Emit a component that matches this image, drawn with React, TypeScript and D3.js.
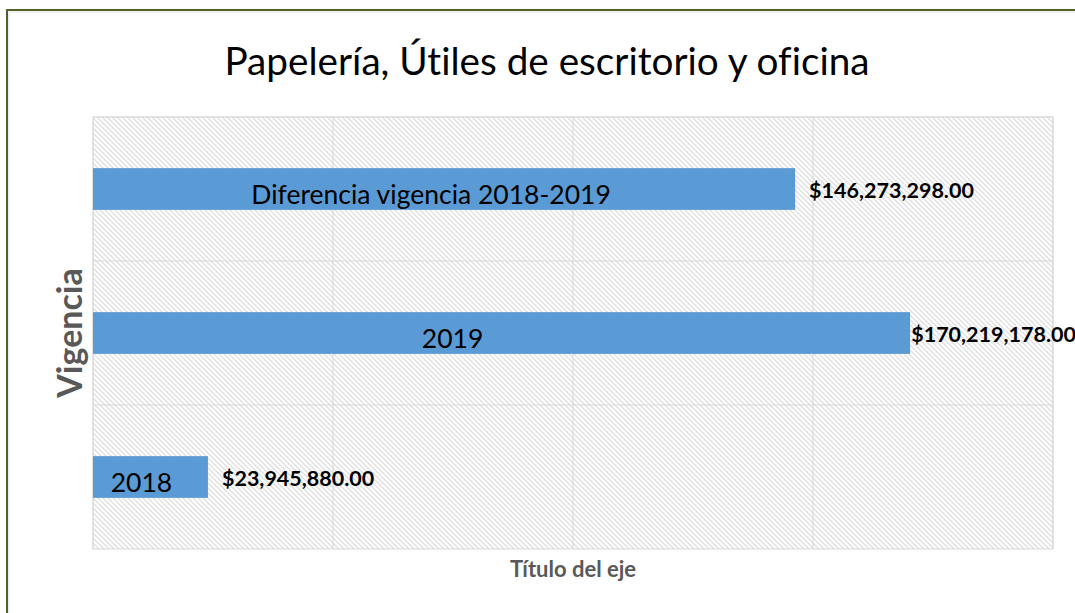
import React from "react";
import * as d3 from "d3";

const categories = ["2018", "2019", "Diferencia vigencia 2018-2019"];
const values = [23945880, 170219178, 146273298];
const xTicks = [0, 50000000, 100000000, 150000000, 200000000];
// small manual nudges of the in-bar category labels (px), like the moved Excel labels
const labelShift = [-9, -49, -13];

const W = 1075;
const H = 613;
const plot = { left: 93, right: 1053, top: 117, bottom: 549 };

export default function App() {
  const x = d3.scaleLinear().domain([0, 200000000]).range([plot.left, plot.right]);
  const y = d3
    .scaleBand<string>()
    .domain([...categories].reverse())
    .range([plot.top, plot.bottom])
    .padding(0);
  const barH = y.bandwidth() * 0.29;
  const fmt = d3.format("$,.2f");
  const font = "Lato, 'Open Sans', sans-serif";
  const valueW = 168;

  return (
    <svg
      width={W}
      height={H}
      style={{ position: "absolute", left: 0, top: 0, background: "#fff", fontVariantLigatures: "none" }}
    >
      <defs>
        <pattern id="hatch" patternUnits="userSpaceOnUse" width={5} height={5}>
          <rect width={5} height={5} fill="#ffffff" />
          <path d="M-1,-1 L6,6 M-1,4 L1,6 M4,-1 L6,1" stroke="#e0e0e0" strokeWidth={1.4} />
        </pattern>
      </defs>

      {/* chart frame */}
      <rect x={7} y={10} width={W + 20} height={H + 20} fill="none" stroke="#4f6228" strokeWidth={2} />
      <rect x={9} y={12} width={W + 20} height={H + 20} fill="none" stroke="#e4e4e4" strokeWidth={1} />

      {/* title */}
      <text
        x={547}
        y={75}
        textAnchor="middle"
        fontFamily={font}
        fontSize={38.5}
        textLength={645}
        lengthAdjust="spacingAndGlyphs"
        fill="#000"
      >
        Papelería, Útiles de escritorio y oficina
      </text>

      {/* plot area */}
      <rect
        x={plot.left}
        y={plot.top}
        width={plot.right - plot.left}
        height={plot.bottom - plot.top}
        fill="url(#hatch)"
      />
      {xTicks.map((t) => (
        <line key={t} x1={x(t)} x2={x(t)} y1={plot.top} y2={plot.bottom} stroke="#d9d9d9" strokeWidth={1} />
      ))}
      {y.domain().map((c) => (
        <line
          key={c}
          x1={plot.left}
          x2={plot.right}
          y1={y(c)!}
          y2={y(c)!}
          stroke="#d9d9d9"
          strokeWidth={1}
        />
      ))}
      <rect
        x={plot.left}
        y={plot.top}
        width={plot.right - plot.left}
        height={plot.bottom - plot.top}
        fill="none"
        stroke="#d9d9d9"
        strokeWidth={1}
      />

      {/* bars */}
      {categories.map((c, i) => {
        const cy = y(c)! + y.bandwidth() / 2;
        const x0 = x(0);
        const x1 = x(values[i]);
        const label = fmt(values[i]);
        const fits = x1 + 14 + valueW < W;
        return (
          <g key={c}>
            <rect x={x0} y={cy - barH / 2} width={x1 - x0} height={barH} fill="#5b9bd5" />
            <text
              x={(x0 + x1) / 2 + labelShift[i]}
              y={cy + 5}
              textAnchor="middle"
              dominantBaseline="central"
              fontFamily={font}
              fontSize={26.5}
              fill="#000"
            >
              {c}
            </text>
            <text
              x={fits ? x1 + 14 : W + 1}
              y={cy + 1}
              textAnchor={fits ? "start" : "end"}
              dominantBaseline="central"
              fontFamily={font}
              fontSize={21.5}
              fontWeight="bold"
              fill="#000"
            >
              {label}
            </text>
          </g>
        );
      })}

      {/* axis titles */}
      <text
        transform={`translate(82,${(plot.top + plot.bottom) / 2}) rotate(-90)`}
        textAnchor="middle"
        fontFamily={font}
        fontSize={34}
        fontWeight="bold"
        fill="#595959"
      >
        Vigencia
      </text>
      <text
        x={(plot.left + plot.right) / 2}
        y={577}
        textAnchor="middle"
        fontFamily={font}
        fontSize={22}
        fontWeight="bold"
        fill="#595959"
      >
        Título del eje
      </text>
    </svg>
  );
}
